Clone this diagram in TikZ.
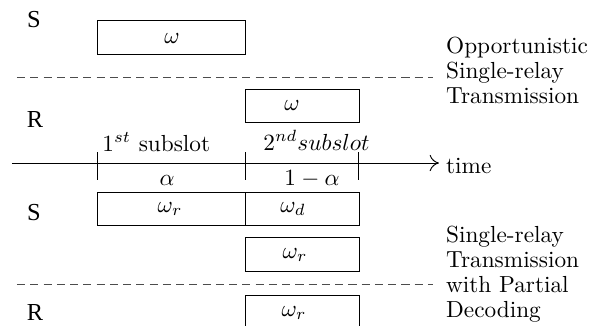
\documentclass[tikz,border=0pt]{standalone}
\usepackage{fontspec}
\newfontfamily\timesf{Liberation Serif}
\usetikzlibrary{arrows.meta}
\def\pxu{0.43pt}
\begin{document}
\begin{tikzpicture}[x=0.43pt,y=-0.43pt,
  slotbox/.style={draw, line width=0.35pt, inner sep=0pt, minimum width=#1*\pxu},
  wide/.style={slotbox=148},
  narrow/.style={slotbox=114},
  ht/.style={minimum height=#1*\pxu},
  nodelabel/.style={font=\timesf\fontsize{10.5}{12}\selectfont, inner sep=0pt},
  boxtext/.style={inner sep=0pt},
  plain/.style={inner sep=0pt, anchor=base west},
  sidetext/.style={inner sep=0pt, anchor=base west, align=left, font=\fontsize{10}{10.75}\selectfont},
  sep/.style={line width=0.4pt, black!70, dash pattern=on 3.5pt off 2.2pt},
  tick/.style={line width=0.35pt}]
\useasboundingbox (0,0) rectangle (604,325);

% node labels
\node[nodelabel] (s1) at (34,19.5) {S};
\node[nodelabel] (r1) at (35,119) {R};
\node[nodelabel] (s2) at (34,213) {S};
\node[nodelabel] (r2) at (35,312) {R};

% upper scheme
\node[wide, ht=34] (b1) at (171,37) {};
\node[boxtext] (t1) at (172,38) {$\omega$};
\node[narrow, ht=33] (b2) at (302,105.5) {};
\node[boxtext] (t2) at (292,105.5) {$\omega$};

% separators
\coordinate (d1a) at (17,77);
\coordinate (d1b) at (433,77);
\draw[sep] (d1a) -- (d1b);
\coordinate (d2a) at (17,284);
\coordinate (d2b) at (433,284);
\draw[sep] (d2a) -- (d2b);

% time axis
\coordinate (axL) at (12,163);
\coordinate (axR) at (439,163);
\draw[line width=0.4pt, -{To[length=4pt,width=7pt]}] (axL) -- (axR);
\node[plain] (time) at (445.7,173) {time};
\foreach \x/\n in {97/k1,245.5/k2,358.5/k3}{
  \coordinate (\n a) at (\x,152);
  \coordinate (\n b) at (\x,179.5);
  \draw[tick] (\n a) -- (\n b);
}
\node[plain] (sub1) at (102,151) {$1^{st}$ subslot};
\node[plain] (sub2) at (263,150) {$2^{nd} subslot$};
\node[inner sep=0pt, anchor=base] (al1) at (167,185) {$\alpha$};
\node[inner sep=0pt, anchor=base] (al2) at (312,185) {$1-\alpha$};

% lower scheme
\node[wide, ht=33] (b3) at (171,208.5) {};
\node[boxtext] (t3) at (170,209) {$\omega_r$};
\node[narrow, ht=33] (b4) at (302,208.5) {};
\node[boxtext] (t4) at (293,209) {$\omega_d$};
\node[narrow, ht=34] (b5) at (302,254) {};
\node[boxtext] (t5) at (295,255) {$\omega_r$};
\node[narrow, ht=34] (b6) at (302,312) {};
\node[boxtext] (t6) at (294,313) {$\omega_r$};

% side descriptions (base anchor = baseline of the last line)
\node[sidetext] (lab1) at (445.7,103) {Opportunistic\\Single-relay\\Transmission};
\node[sidetext] (lab2) at (445.7,317) {Single-relay\\Transmission\\with Partial\\Decoding};
\end{tikzpicture}
\end{document}
